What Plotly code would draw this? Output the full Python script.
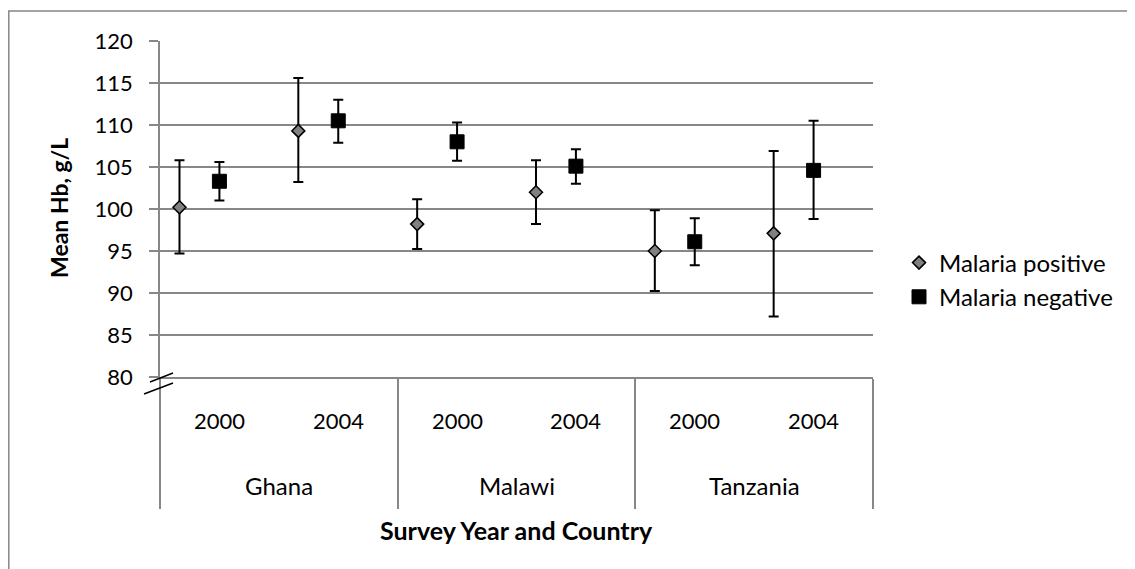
import plotly.graph_objects as go

# ---------------- data ----------------
countries = ["Ghana", "Malawi", "Tanzania"]
years = ["2000", "2004"]

pos_mean = [100.2, 109.3, 98.2, 102.0, 95.0, 97.1]
pos_hi = [105.8, 115.6, 101.15, 105.8, 99.85, 106.9]
pos_lo = [94.7, 103.2, 95.25, 98.2, 90.25, 87.2]

neg_mean = [103.3, 110.5, 108.0, 105.1, 96.1, 104.6]
neg_hi = [105.6, 113.0, 110.3, 107.1, 98.9, 110.5]
neg_lo = [101.0, 107.9, 105.75, 103.0, 93.3, 98.8]

y_ticks = [80, 85, 90, 95, 100, 105, 110, 115, 120]

# ---------------- geometry helpers (page coords -> paper) ----------------
PAGE_OFF = 8          # default html body margin
W, H = 1135 - PAGE_OFF, 569 - PAGE_OFF
L, R, T, B = 152, 262, 33, 192
PW, PH = W - L - R, H - T - B


def px(xp):
    return (xp - PAGE_OFF - L) / PW


def py(yp):
    return (H - B - (yp - PAGE_OFF)) / PH


FONT = "Lato"
GRID = "#878787"
n_years = len(years)
n = len(countries) * n_years
centers = [i + 0.5 for i in range(n)]
OFF = 0.336
x_pos = [c - OFF for c in centers]

fig = go.Figure()

fig.add_trace(go.Scatter(
    x=x_pos, y=pos_mean, mode="markers", name="Malaria positive",
    marker=dict(symbol="diamond", size=10, color="#808080",
                line=dict(color="black", width=1.5)),
    error_y=dict(type="data", symmetric=False,
                 array=[h - m for h, m in zip(pos_hi, pos_mean)],
                 arrayminus=[m - l for m, l in zip(pos_mean, pos_lo)],
                 color="black", thickness=2, width=5),
    cliponaxis=False,
))

fig.add_trace(go.Scatter(
    x=centers, y=neg_mean, mode="markers", name="Malaria negative",
    marker=dict(symbol="square", size=14, color="black",
                line=dict(color="black", width=1)),
    error_y=dict(type="data", symmetric=False,
                 array=[h - m for h, m in zip(neg_hi, neg_mean)],
                 arrayminus=[m - l for m, l in zip(neg_mean, neg_lo)],
                 color="black", thickness=2, width=5),
    cliponaxis=False,
))

annotations = []
# year labels
for i, c in enumerate(centers):
    annotations.append(dict(x=c, y=py(420), xref="x", yref="paper",
                            text=years[i % n_years], showarrow=False,
                            font=dict(family=FONT, size=22, color="black"),
                            xanchor="center", yanchor="middle"))
# country labels
for k, name in enumerate(countries):
    annotations.append(dict(x=k * n_years + n_years / 2, y=py(485), xref="x", yref="paper",
                            text=name, showarrow=False,
                            font=dict(family=FONT, size=24, color="black"),
                            xanchor="center", yanchor="middle"))
# axis titles
annotations.append(dict(x=0.5, y=py(530), xref="paper", yref="paper",
                        text="<b>Survey Year and Country</b>", showarrow=False,
                        font=dict(family=FONT, size=25, color="black"),
                        xanchor="center", yanchor="middle"))
annotations.append(dict(x=px(59), y=py(208), xref="paper", yref="paper",
                        text="<b>Mean Hb, g/L</b>", showarrow=False, textangle=-90,
                        font=dict(family=FONT, size=23, color="black"),
                        xanchor="center", yanchor="middle"))

shapes = [
    # outer chart border (cropped at right and bottom)
    dict(type="rect", xref="paper", yref="paper",
         x0=px(8.8), x1=px(1135 + 20), y0=py(569 + 20), y1=py(11),
         line=dict(color=GRID, width=1.5), fillcolor="rgba(0,0,0,0)", layer="below"),
    # axis break marks
    dict(type="line", xref="paper", yref="paper",
         x0=px(144), y0=py(394), x1=px(173), y1=py(383),
         line=dict(color="black", width=1.5)),
    dict(type="line", xref="paper", yref="paper",
         x0=px(150), y0=py(382), x1=px(173), y1=py(373),
         line=dict(color="black", width=1.5)),
]

fig.update_layout(
    width=W, height=H, autosize=False,
    margin=dict(l=L, r=R, t=T, b=B, pad=0),
    paper_bgcolor="white", plot_bgcolor="white",
    font=dict(family=FONT, size=22, color="black"),
    showlegend=True,
    legend=dict(x=px(899), y=py(280), xanchor="left", yanchor="middle",
                font=dict(family=FONT, size=24, color="black"),
                bgcolor="rgba(0,0,0,0)", tracegroupgap=0, itemwidth=30),
    annotations=annotations,
    shapes=shapes,
    xaxis=dict(range=[0, n], tickvals=[k * n_years for k in range(len(countries) + 1)],
               ticks="outside", ticklen=130, tickcolor=GRID, tickwidth=1.5,
               showticklabels=False, showline=True, linecolor=GRID, linewidth=1.5,
               showgrid=False, zeroline=False, fixedrange=True),
    yaxis=dict(range=[y_ticks[0], y_ticks[-1]], tickvals=y_ticks,
               ticks="outside", ticklen=9, tickcolor=GRID, tickwidth=1.5,
               showline=True, linecolor=GRID, linewidth=1.5,
               showgrid=True, gridcolor=GRID, gridwidth=1.5, zeroline=False,
               tickfont=dict(family=FONT, size=22, color="black"),
               ticklabelstandoff=12, fixedrange=True),
)

fig.write_html("out.html")
